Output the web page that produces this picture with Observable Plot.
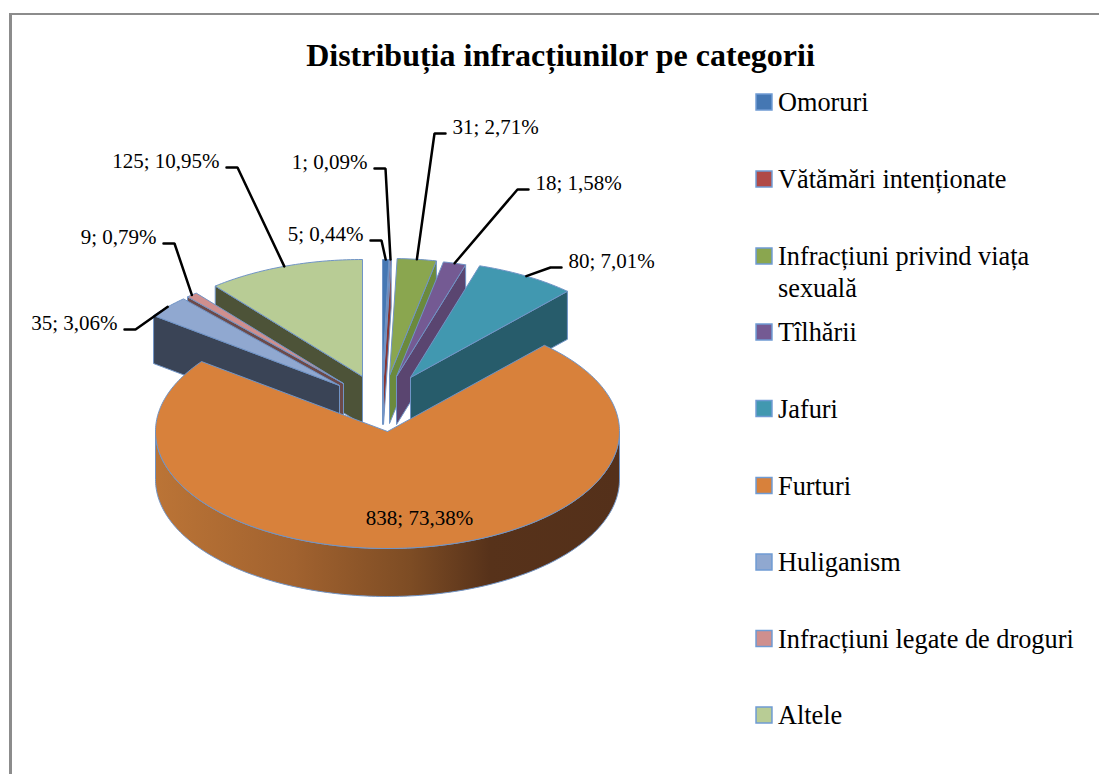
<!DOCTYPE html>
<html lang="ro">
<head>
<meta charset="utf-8">
<script src="https://cdn.jsdelivr.net/npm/d3@7"></script>
<script src="https://cdn.jsdelivr.net/npm/@observablehq/plot@0.6"></script>
<style>
  html, body { margin: 0; padding: 0; background: #fff; }
  svg { display: block; }
</style>
</head>
<body>
<div id="chart"></div>
<script>
// ---- data ----
const categories = ["Omoruri", "Vătămări intenționate", "Infracțiuni privind viața sexuală", "Tîlhării", "Jafuri", "Furturi", "Huliganism", "Infracțiuni legate de droguri", "Altele"];
const values = [5, 1, 31, 18, 80, 838, 35, 9, 125];

// ---- legend wording (wrapped as in the reference) ----
const legendLabels = ["Omoruri", "Vătămări intenționate", "Infracțiuni privind viața\nsexuală", "Tîlhării", "Jafuri", "Furturi", "Huliganism", "Infracțiuni legate de droguri", "Altele"];

// ---- styles ----
const topColors  = ["#4577b3", "#b04a47", "#8aa64f", "#745a93", "#4198b0", "#d8813b", "#90a8d0", "#cf8f8e", "#b8cc95"];
const sideColors = ["#3a6aa3", "#8a3532", "#6b8a3d", "#5a4570", "#275c6b", "url(#rimFurturi)", "#3a4456", "#6c4a4a", "#4d5338"];
const edgeColor = "#7094c6";

// ---- pie layout ----
const center = {x: 387, y: 431};
const radiusX = 232, radiusY = 117, depth = 48;
const explodeX = [-5, -4, 2, 9, 23, 0, -48, -44, -25];
const explodeY = [-55, -55, -56, -55, -54, 0, -46, -48, -55];
const drawOrder = [8, 7, 6, 0, 1, 2, 3, 4, 5];

// ---- label and legend layout ----
const labelX = [363, 367, 452, 535, 568, 419, 117, 156, 219];
const labelY = [240, 168, 133, 189, 267, 524.5, 329, 243, 167];
const legendKeyY = [101.5, 178.5, 255.5, 331.5, 408, 485, 561.5, 638, 714.5];

// ---- geometry derived from the values ----
const TAU = 2 * Math.PI;
const total = d3.sum(values);
const arcs = d3.pie().sort(null)(values);
const slices = categories.map((name, i) => ({
  name, i, value: values[i],
  a0: arcs[i].startAngle, a1: arcs[i].endAngle,
  cx: center.x + explodeX[i], cy: center.y + explodeY[i],
  label: `${values[i]}; ${(values[i] / total * 100).toFixed(2).replace(".", ",")}%`
}));
const rimPoint = (s, a, drop = 0) => ({x: s.cx + radiusX * Math.sin(a), y: s.cy - radiusY * Math.cos(a) + drop});
const sample = (a0, a1) => {
  const n = Math.max(2, Math.ceil((a1 - a0) / (TAU / 360)));
  return d3.range(n + 1).map(k => a0 + (a1 - a0) * k / n);
};

const polygons = [];
const addPolygon = (id, fill, pts) => {
  [...pts, pts[0]].forEach(p => polygons.push({id, fill, x: p.x, y: p.y}));
};
for (const i of drawOrder) {
  const s = slices[i];
  const tip = {x: s.cx, y: s.cy};
  const tipLow = {x: s.cx, y: s.cy + depth};
  const face = (a, tag) => addPolygon(`${i}-${tag}`, sideColors[i],
    [tip, rimPoint(s, a), rimPoint(s, a, depth), tipLow]);
  if (s.a0 > 0.75 * TAU) face(s.a0, "start");
  if (s.a1 < 0.25 * TAU) face(s.a1, "end");
  const w0 = Math.max(s.a0, 0.25 * TAU), w1 = Math.min(s.a1, 0.75 * TAU);
  if (w1 > w0) {
    const as = sample(w0, w1);
    addPolygon(`${i}-wall`, sideColors[i],
      [...as.map(a => rimPoint(s, a)), ...as.slice().reverse().map(a => rimPoint(s, a, depth))]);
  }
  addPolygon(`${i}-top`, topColors[i], [tip, ...sample(s.a0, s.a1).map(a => rimPoint(s, a))]);
}

const furturi = categories.indexOf("Furturi");
const isRightLabel = s => s.i >= 2 && s.i <= 4;

// leader lines: rim at mid-angle -> elbow -> stub beside the label
const leaders = slices.filter(s => s.i !== furturi).flatMap(s => {
  const dir = isRightLabel(s) ? -1 : 1;
  const stub = labelX[s.i] + dir * 7, elbow = labelX[s.i] + dir * 18;
  const end = rimPoint(s, (s.a0 + s.a1) / 2);
  return [
    {id: s.i, x: stub, y: labelY[s.i]},
    {id: s.i, x: elbow, y: labelY[s.i]},
    {id: s.i, x: end.x, y: end.y}
  ];
});

// gradient for the rim of the big slice
const rimDefs = () => {
  const defs = d3.create("svg:defs");
  const g = defs.append("linearGradient").attr("id", "rimFurturi")
    .attr("gradientUnits", "userSpaceOnUse")
    .attr("x1", center.x - radiusX).attr("x2", center.x + radiusX).attr("y1", 0).attr("y2", 0);
  [[0, "#bb7436"], [0.3, "#a1622f"], [0.55, "#7d4c24"], [0.72, "#57321a"], [1, "#54301a"]]
    .forEach(([o, c]) => g.append("stop").attr("offset", o).attr("stop-color", c));
  return defs.node();
};

const labelMark = (data, textAnchor) => Plot.text(data, {
  x: s => labelX[s.i], y: s => labelY[s.i], text: "label", dy: -6.5,
  textAnchor, fontSize: 21, fill: "#000"
});

const chart = Plot.plot({
  width: 1099,
  height: 774,
  margin: 0,
  x: {domain: [0, 1099], range: [0, 1099], axis: null},
  y: {domain: [0, 774], range: [0, 774], axis: null},
  color: {type: "identity"},
  style: {fontFamily: "'Liberation Serif', serif", background: "#fff"},
  marks: [
    rimDefs,
    // outer frame of the chart
    Plot.ruleX([10], {y1: 13, y2: 774, stroke: "#8c8c8c", strokeWidth: 3}),
    Plot.ruleY([13.5], {x1: 9, x2: 1099, stroke: "#8c8c8c", strokeWidth: 2}),
    // title
    Plot.text(["Distribuția infracțiunilor pe categorii"], {
      x: () => 560, y: () => 55, text: d => d,
      fontSize: 32, fontWeight: "bold", fill: "#000"
    }),
    // pie
    Plot.line(polygons, {x: "x", y: "y", z: "id", fill: d => d.fill, stroke: edgeColor, strokeWidth: 1}),
    // leaders
    Plot.line(leaders, {x: "x", y: "y", z: "id", stroke: "#000", strokeWidth: 2.5, strokeLinejoin: "miter"}),
    // data labels
    labelMark(slices.filter(s => s.i !== furturi && !isRightLabel(s)), "end"),
    labelMark(slices.filter(isRightLabel), "start"),
    labelMark(slices.filter(s => s.i === furturi), "middle"),
    // legend
    Plot.dot(slices, {
      x: () => 763.5, y: s => legendKeyY[s.i], symbol: "square", r: 9,
      fill: s => topColors[s.i], stroke: "#6f9bd3", strokeWidth: 1.5
    }),
    Plot.text(slices, {
      x: () => 777.5, y: s => legendKeyY[s.i] - 13, text: s => legendLabels[s.i],
      lineAnchor: "top", textAnchor: "start", lineHeight: 1.2,
      fontSize: 26.3, fill: "#000"
    })
  ]
});
document.getElementById("chart").append(chart);
</script>
</body>
</html>
